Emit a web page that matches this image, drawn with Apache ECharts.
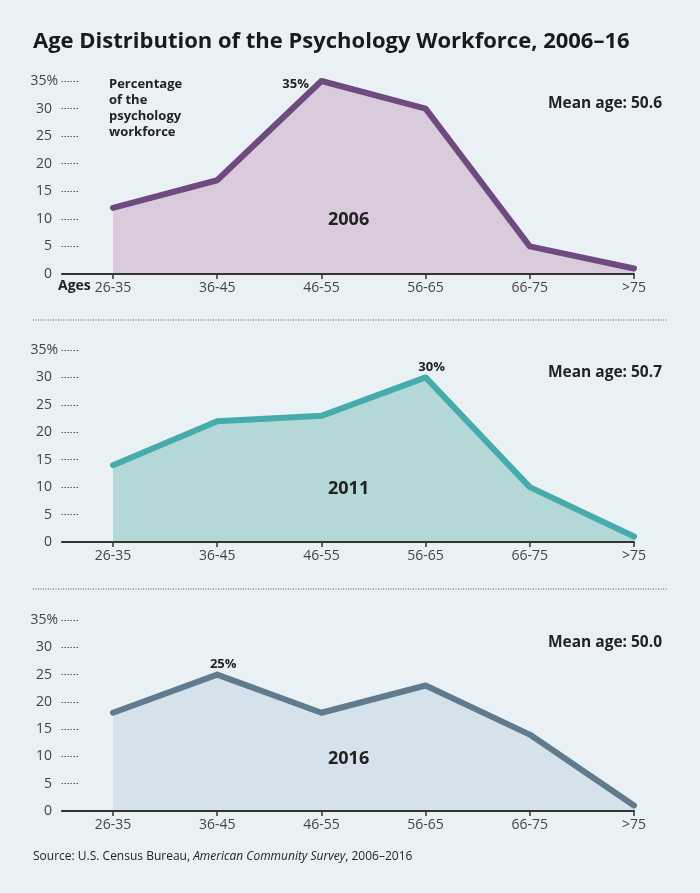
<!DOCTYPE html>
<html><head><meta charset="utf-8">
<script src="https://cdn.jsdelivr.net/npm/echarts@6/dist/echarts.min.js"></script>
<style>html,body{margin:0;padding:0;background:#eaf1f5;}#c{width:700px;height:893px;}</style>
</head><body><div id="c"></div>
<script>
const categories = ['26-35','36-45','46-55','56-65','66-75','>75'];
const years = ['2006','2011','2016'];
const values2006 = [12, 17, 35, 30, 5, 1];
const values2011 = [14, 22, 23, 30, 10, 1];
const values2016 = [18, 25, 18, 23, 14, 1];
const meanAges = ['50.6','50.7','50.0'];

const FONT = '"Open Sans"';
const panels = [
  {vals: values2006, top: 81, y0: 274, line: '#6f4a7f', fill: '#dacbdc', labelPos: 'left', labelOff:[-8,3]},
  {vals: values2011, top: 350, y0: 542, line: '#46abab', fill: '#b4d7d8', labelPos: 'top', labelOff:[6,1]},
  {vals: values2016, top: 620, y0: 811, line: '#5f7b8d', fill: '#d5e2eb', labelPos: 'top', labelOff:[6,1]}
];
const H = 893;
const grids = [], xAxes = [], yAxes = [], series = [], graphics = [];
panels.forEach((p, i) => {
  grids.push({left: 113, right: 66, top: p.top, bottom: H - p.y0});
  grids.push({left: 62, right: 66, top: p.top, bottom: H - p.y0});
  xAxes.push({gridIndex: 2*i, type: 'category', boundaryGap: false, data: categories,
    axisLine: {show: false},
    axisTick: {show: true, alignWithLabel: true, length: 5, lineStyle: {color: '#333', width: 1.5}},
    axisLabel: {color: '#444', fontSize: 14, fontFamily: FONT, margin: 7}});
  xAxes.push({gridIndex: 2*i+1, type: 'value', min: 0, max: 1, z: 5,
    axisLine: {show: true, lineStyle: {color: '#333', width: 2}},
    axisTick: {show: false}, axisLabel: {show: false}, splitLine: {show: false}});
  yAxes.push({gridIndex: 2*i, type: 'value', min: 0, max: 35, interval: 5, offset: 35,
    axisLine: {show: false},
    axisTick: {show: true, length: 18, lineStyle: {color: '#555', type: [1.5, 1.5], width: 1}},
    axisLabel: {color: '#444', fontSize: 14, fontFamily: FONT, margin: 26,
      formatter: v => v === 35 ? '{p|35%}' : String(v),
      rich: {p: {fontSize: 14, fontFamily: FONT, color: '#444', padding: [0, -6, 0, 0]}}},
    splitLine: {show: false}});
  yAxes.push({gridIndex: 2*i+1, type: 'value', min: 0, max: 35, show: false});
  const maxV = Math.max(...p.vals);
  const data = p.vals.map(v => v === maxV ? {value: v, label: {show: true, position: p.labelPos, distance: 4,
      offset: p.labelOff, formatter: v + '%', color: '#222', fontWeight: 'bold', fontSize: 13, fontFamily: FONT}} : v);
  series.push({type: 'line', xAxisIndex: 2*i, yAxisIndex: 2*i, data: data, symbol: 'circle', symbolSize: 1,
    showSymbol: true, itemStyle: {color: p.line},
    lineStyle: {color: p.line, width: 6, cap: 'round', join: 'round'},
    areaStyle: {color: p.fill, opacity: 1}, silent: true, z: 2});
  graphics.push({type: 'text', right: 38, top: p.top + 15, z: 100, style: {text: 'Mean age: ' + meanAges[i],
    fill: '#222', font: 'bold 15.5px ' + FONT, textAlign: 'right'}});
  graphics.push({type: 'text', left: 328, top: p.top + 130, z: 100, style: {text: years[i],
    fill: '#222', font: 'bold 18px ' + FONT}});
});
graphics.push({type: 'text', left: 33, top: 31, z: 100, style: {text: 'Age Distribution of the Psychology Workforce, 2006\u201316',
  fill: '#1a1a1a', font: 'bold 22px ' + FONT}});
graphics.push({type: 'text', left: 109, top: 76, z: 100, style: {text: 'Percentage\nof the\npsychology\nworkforce',
  fill: '#222', font: 'bold 13px ' + FONT, lineHeight: 16}});
graphics.push({type: 'text', left: 58, top: 279, z: 100, style: {text: 'Ages', fill: '#222', font: 'bold 14px ' + FONT}});
graphics.push({type: 'line', z: 100, shape: {x1: 33, y1: 320, x2: 667, y2: 320}, style: {stroke: '#555', lineWidth: 1, lineDash: [1, 1.5]}});
graphics.push({type: 'line', z: 100, shape: {x1: 33, y1: 589, x2: 667, y2: 589}, style: {stroke: '#555', lineWidth: 1, lineDash: [1, 1.5]}});
graphics.push({type: 'text', left: 33, top: 851, z: 100, style: {
  text: '{a|Source: U.S. Census Bureau, }{b|American Community Survey}{a|, 2006\u20132016}',
  rich: {a: {fill: '#222', font: '12px ' + FONT}, b: {fill: '#222', font: 'italic 12px ' + FONT}}}});

const chart = echarts.init(document.getElementById('c'));
chart.setOption({backgroundColor: '#eaf1f5', animation: false, grid: grids, xAxis: xAxes, yAxis: yAxes, series: series, graphic: graphics});
</script></body></html>
